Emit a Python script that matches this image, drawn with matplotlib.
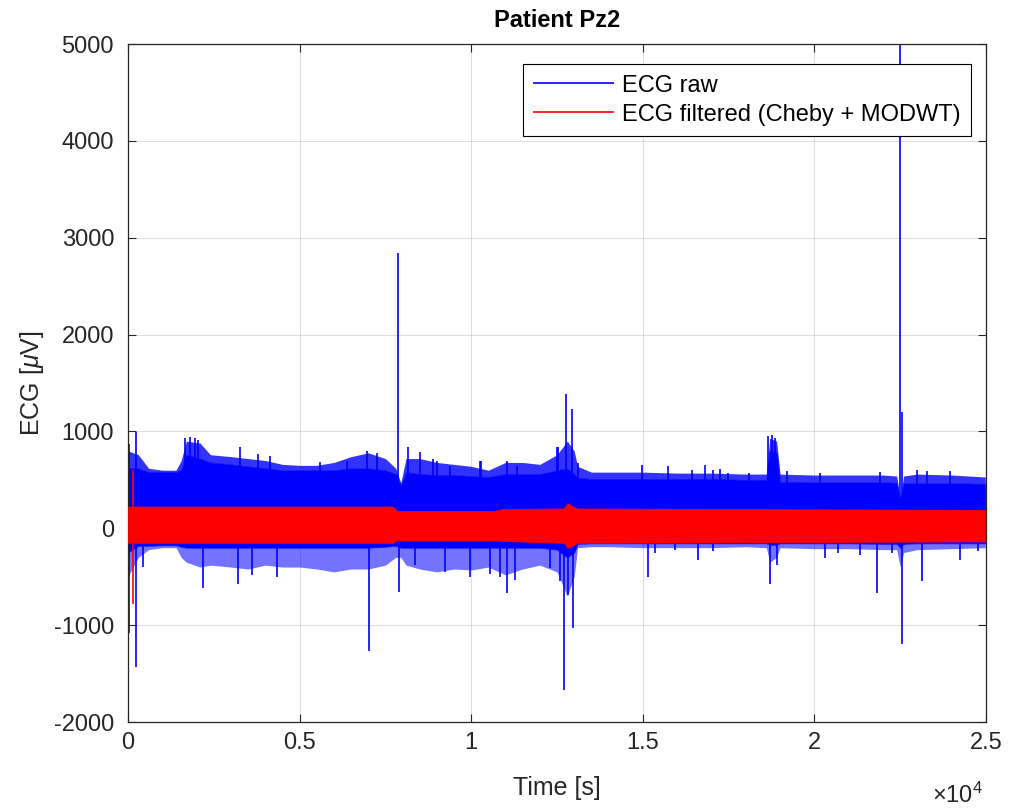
import matplotlib
matplotlib.use("Agg")
import matplotlib.pyplot as plt
import numpy as np

plt.rcParams['font.family'] = ['Liberation Sans', 'DejaVu Sans']
plt.rcParams['mathtext.fontset'] = 'custom'
plt.rcParams['mathtext.rm'] = 'Liberation Sans'
plt.rcParams['mathtext.it'] = 'Liberation Sans:italic'
plt.rcParams['axes.unicode_minus'] = False

#%% raw ECG (time in s, values in uV)
# outer envelope (tips of the dense spikes) and solid body of the trace
raw_t = [0, 300, 600, 1000, 1400, 1550, 1700, 2100, 2400, 3000, 3500, 4000, 4500,
         5000, 5500, 6000, 6500, 7000, 7500, 7800, 7950, 8100, 8500, 9000, 9500,
         10000, 10500, 11000, 11500, 12000, 12500, 12800, 13000, 13100, 13500,
         14000, 15000, 16000, 17000, 18000, 18600, 18700, 18900, 19000, 20000,
         21000, 22000, 22400, 22500, 22600, 23000, 24000, 24980]
raw_hi = [800, 760, 620, 600, 600, 700, 900, 880, 760, 740, 720, 700, 660,
          650, 650, 680, 740, 780, 720, 620, 470, 720, 720, 680, 660,
          640, 600, 680, 680, 660, 760, 900, 800, 640, 580,
          580, 580, 570, 570, 560, 560, 930, 900, 560, 550,
          550, 550, 540, 300, 540, 560, 550, 530]
body_hi = [620, 620, 580, 580, 580, 600, 760, 720, 680, 660, 640, 620, 600,
           600, 600, 600, 620, 620, 600, 560, 440, 580, 560, 550, 550,
           540, 530, 560, 560, 560, 600, 620, 560, 520, 510,
           510, 510, 510, 510, 500, 500, 800, 780, 480, 475,
           475, 475, 470, 290, 465, 465, 465, 460]
body_lo = [-250, -180, -180, -175, -175, -190, -200, -200, -200, -200, -200, -200, -200,
           -200, -200, -200, -200, -200, -190, -180, -200, -200, -200, -200, -200,
           -200, -200, -200, -200, -200, -220, -300, -250, -160, -155,
           -155, -155, -155, -155, -155, -155, -170, -170, -155, -155,
           -155, -160, -160, -200, -160, -155, -155, -155]
raw_lo = [-500, -300, -220, -200, -200, -300, -350, -400, -380, -400, -420, -380, -400,
          -400, -420, -450, -420, -420, -380, -300, -300, -380, -420, -450, -420,
          -430, -400, -480, -420, -380, -450, -700, -500, -200, -190,
          -190, -200, -200, -200, -190, -200, -350, -300, -200, -210,
          -210, -220, -220, -400, -250, -220, -210, -200]

# isolated spikes of the raw ECG
up_t = [30, 230, 1650, 1800, 1950, 2050, 3260, 3800, 4140, 5600, 6380, 6960, 7250,
        7867, 8160, 8510, 8890, 9000, 9380, 10260, 10300, 11040, 11330, 12500, 12530,
        12760, 12940, 13100, 14980, 15740, 16430, 16810, 17050, 17250, 17480, 18100,
        18650, 18760, 18850, 19200, 20160, 21910, 22500, 22550, 22990, 23280, 23950]
up_v = [870, 990, 930, 940, 930, 910, 840, 770, 750, 680, 700, 800, 780,
        2840, 840, 790, 720, 690, 640, 690, 690, 690, 640, 840, 840,
        1390, 1230, 670, 650, 640, 600, 650, 600, 610, 570, 570,
        950, 960, 930, 590, 570, 580, 5200, 1200, 600, 590, 590]
dn_t = [30, 230, 440, 2190, 3200, 3610, 4340, 7020, 7900, 8360, 9240, 9970, 10550,
        10840, 11040, 11280, 12300, 12590, 12710, 12820, 12970, 15150, 15360, 15940,
        16610, 17050, 18710, 18910, 20310, 20690, 21330, 21830, 22260, 22550, 23140,
        24250, 24770]
dn_v = [-1080, -1430, -400, -620, -570, -480, -500, -1270, -660, -380, -450, -500, -470,
        -500, -670, -530, -410, -540, -1670, -690, -1030, -500, -250, -220,
        -330, -230, -570, -380, -310, -260, -280, -670, -260, -1190, -540,
        -330, -230]

#%% filtered ECG envelope
filt_t = [0, 7700, 7850, 10700, 10900, 12700, 12800, 12950, 13100, 24980]
filt_hi = [225, 225, 180, 180, 200, 205, 260, 230, 205, 190]
filt_lo = [-150, -150, -125, -125, -130, -150, -200, -180, -150, -135]
filt_spk_t = [150]
filt_spk_hi = [600]
filt_spk_lo = [-780]

#%% plot
fig = plt.figure(figsize=(10.15, 8.08), dpi=100)
ax = fig.add_axes([0.1261, 0.1064, 0.8453, 0.8391])

# dense spikes: shaded band between body and spike tips
ax.fill_between(raw_t, body_hi, raw_hi, color='b', alpha=0.8, lw=0, zorder=2)
ax.fill_between(raw_t, raw_lo, body_lo, color='b', alpha=0.55, lw=0, zorder=2)
ax.fill_between(raw_t, body_lo, body_hi, color='b', lw=0.5, zorder=2)
h_raw = ax.vlines(up_t, 0, up_v, colors='b', lw=1.2, zorder=2, label='ECG raw')
ax.vlines(dn_t, 0, dn_v, colors='b', lw=1.2, zorder=2)

ax.fill_between(filt_t, filt_lo, filt_hi, color='r', lw=0.5, zorder=3)
h_filt = ax.vlines(filt_spk_t, filt_spk_lo, filt_spk_hi, colors='r', lw=1.2, zorder=3,
                   label='ECG filtered (Cheby + MODWT)')

ax.set_xlim(0, 25000)
ax.set_ylim(-2000, 5000)
ax.set_xticks(np.arange(0, 25001, 5000))
ax.set_xticklabels(['0', '0.5', '1', '1.5', '2', '2.5'])
ax.set_yticks(np.arange(-2000, 5001, 1000))

dark = (0.15, 0.15, 0.15)
ax.tick_params(direction='in', length=6, width=0.8, top=True, right=True,
               labelsize=17, colors=dark)
ax.tick_params(axis='x', pad=7)
ax.tick_params(axis='y', pad=10)
for s in ax.spines.values():
    s.set_color(dark)
    s.set_linewidth(0.9)
ax.grid(True, color=dark, alpha=0.15, lw=0.8)
ax.set_axisbelow(True)

ax.set_title('Patient Pz2', fontsize=17, fontweight='bold', pad=12)
ax.set_xlabel('Time [s]', fontsize=18, color=dark, labelpad=16)
ax.set_ylabel(r'ECG [$\mu$V]', fontsize=18, color=dark, labelpad=6)
ax.annotate(r'$\times10^{4}$', xy=(0.967, -0.108), xycoords='axes fraction',
            ha='center', va='center', fontsize=17, color=dark)

leg = ax.legend(handles=[h_raw, h_filt], loc='upper right',
                bbox_to_anchor=(0.9567, 0.9208), bbox_transform=fig.transFigure,
                fontsize=17, fancybox=False, edgecolor='k', framealpha=1,
                handlelength=3.4, handletextpad=0.35, borderaxespad=0,
                labelspacing=0.3, borderpad=0.45)
leg.get_frame().set_linewidth(0.8)

fig.savefig('out.png', dpi=100)
